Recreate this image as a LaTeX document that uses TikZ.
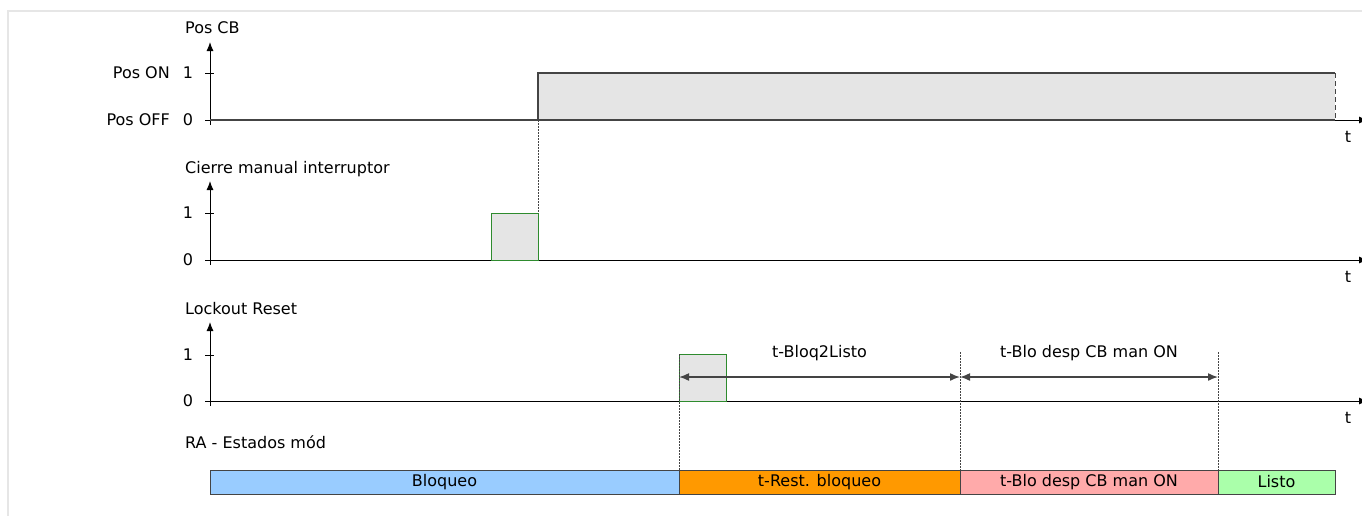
\documentclass[tikz,border=0pt]{standalone}
\usepackage{fontspec}
\setmainfont{DejaVu Sans}
\usetikzlibrary{arrows.meta,positioning,calc}
\definecolor{FrameGray}{HTML}{E6E6E6}
\definecolor{SigGray}{HTML}{E5E5E5}
\definecolor{SigEdge}{HTML}{444444}
\definecolor{PulseGreen}{HTML}{2E8B2E}
\definecolor{StateBlue}{HTML}{99CCFF}
\definecolor{StateOrange}{HTML}{FF9900}
\definecolor{StatePink}{HTML}{FFAAAA}
\definecolor{StateGreen}{HTML}{AAFFAA}

\begin{document}
\begin{tikzpicture}[
      x=1pt,y=-1pt,
      txt/.style={font=\fontsize{16}{19}\selectfont,inner sep=0pt,text=black},
      axis/.style={-{Latex[length=9pt,width=7pt]},line width=1pt},
      pulse/.style={draw=PulseGreen,fill=SigGray,line width=1pt,minimum width=47pt,minimum height=47pt,inner sep=0pt,outer sep=0pt,anchor=south west},
      state/.style={draw=SigEdge,line width=0.8pt,minimum height=24pt,inner sep=0pt,outer sep=0pt,font=\fontsize{16}{19}\selectfont},
      guide/.style={SigEdge,line width=0.6pt,dash pattern=on 2pt off 1pt},
      dim/.style={{Latex[length=10pt,width=8pt]}-{Latex[length=10pt,width=8pt]},SigEdge,line width=1.5pt}
    ]
      \useasboundingbox (0,0) rectangle (1362,515);
      % frame
      \draw[FrameGray,line width=2pt] (8,520) -- (8,11) -- (1370,11);

      % axes
      \foreach \name/\yo/\yi/\ytop in {pos/120/73/42, cierre/260/213/181, reset/401/355/322} {
        \coordinate (\name-o) at (210,\yo);
        \coordinate (\name-i) at (210,\yi);
        \draw[axis] (210,\yo+5) -- (210,\ytop);
        \draw[axis] (205,\yo) -- (1368,\yo);
        \draw[line width=1pt] (205,\yi) -- (214,\yi);
        \node[txt] at (1348,\yo+17) {t};
      }

      % axis titles
      \node[txt,anchor=west] (poscb) at (185,28) {Pos CB};
      \node[txt,anchor=west] (cierre) at (185,169) {Cierre manual interruptor};
      \node[txt,anchor=west] (reset) at (185,309) {Lockout Reset};
      \node[txt,anchor=west] (estados) at (185,442) {RA - Estados mód};

      % tick labels
      \node[txt] at (188,73) {1};
      \node[txt] at (188,120) {0};
      \node[txt,anchor=east] at (170,73) {Pos ON};
      \node[txt,anchor=east] at (170,120) {Pos OFF};
      \node[txt] at (188,213) {1};
      \node[txt] at (188,260) {0};
      \node[txt] at (188,355) {1};
      \node[txt] at (188,401) {0};

      % Pos CB signal
      \fill[SigGray] (538,73) rectangle (1335,120);
      \draw[SigEdge,line width=1.2pt] (538,120) -- (538,73) -- (1335,73);
      \draw[SigEdge,line width=1pt,dash pattern=on 5pt off 3pt] (1335,73) -- (1335,120);
      \draw[SigEdge,line width=1.2pt] (210,120) -- (1335,120);

      % pulses
      \node[pulse] (close) at (491,260) {};
      \node[pulse] (reset-p) at (679,401) {};
      \draw[guide] (538,120) -- (close.north east);

      % state bar
      \node[state,fill=StateBlue,minimum width=469pt,anchor=north west] (bloqueo) at (210,470) {Bloqueo};
      \node[state,fill=StateOrange,minimum width=281pt,right=0pt of bloqueo] (rest) {t-Rest. bloqueo};
      \node[state,fill=StatePink,minimum width=258pt,right=0pt of rest] (blo) {t-Blo desp CB man ON};
      \node[state,fill=StateGreen,minimum width=117pt,right=0pt of blo] (listo) {Listo};

      % guides and timers
      \draw[guide] (reset-p.north west) -- (rest.north west);
      \draw[guide] (960,352) -- (blo.north west);
      \draw[guide] (1218,352) -- (listo.north west);
      \coordinate (t1) at (679,377);
      \coordinate (t2) at (960,377);
      \coordinate (t3) at (1218,377);
      \draw[dim] (t1) -- node[txt,above=15pt] {t-Bloq2Listo} (t2);
      \draw[dim] (t2) -- node[txt,above=15pt] {t-Blo desp CB man ON} (t3);
    \end{tikzpicture}
\end{document}
